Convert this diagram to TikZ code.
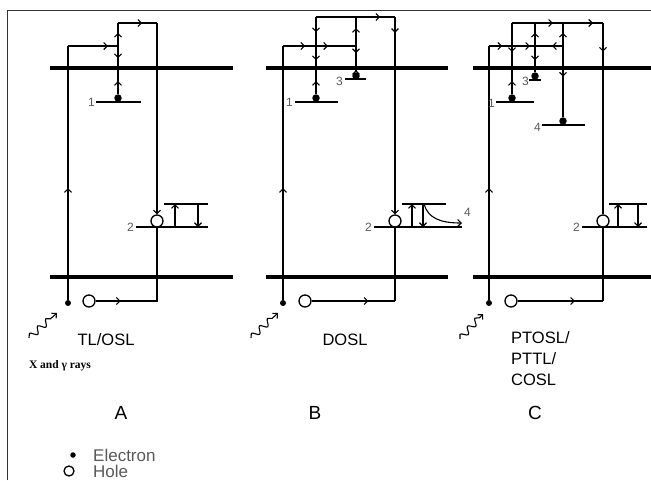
\documentclass[tikz,border=0pt]{standalone}
\usepackage{fontspec}
\setmainfont{Liberation Sans}
\newfontfamily\raysfont{Liberation Serif}
\usetikzlibrary{arrows.meta,decorations.markings,decorations.pathmorphing,backgrounds}
\definecolor{labelgray}{gray}{0.35}
\definecolor{framegray}{gray}{0.2}

\begin{document}
\begin{tikzpicture}[x=1pt,y=-1pt,
  >={Straight Barb[length=3.5pt,width=7pt]},
  band/.style={line width=4pt},
  level/.style={line width=2pt},
  wire/.style={line width=1.1pt},
  tipat/.style={postaction={decorate},
    decoration={markings,mark=at position #1 with {\arrow{>}}}},
  elec/.style={circle,fill=black,inner sep=0pt,minimum size=6pt},
  tdot/.style={circle,fill=black,inner sep=0pt,minimum size=7.5pt},
  hole/.style={circle,draw=black,line width=1.3pt,fill=white,
    inner sep=0pt,minimum size=12pt},
  num/.style={text=labelgray,font=\fontsize{12}{14}\selectfont,
    inner sep=0pt,anchor=east},
  method/.style={font=\fontsize{16.5}{21}\selectfont,inner sep=0pt},
  panel/.style={font=\fontsize{19}{20}\selectfont,inner sep=0pt},
  legend/.style={text=labelgray,font=\fontsize{17}{20}\selectfont,
    anchor=west,inner sep=0pt},
  ray/.style={wire,->,decorate,
    decoration={snake,amplitude=3.2pt,segment length=11pt,post length=4pt}}
]
\useasboundingbox (0,0) rectangle (651,480);
\draw[framegray,line width=1pt] (7,480) -- (7,10) -- (651,10);

% ---------- A: TL/OSL
\node[elec] (eA) at (68,303) {};
\node[hole] (hA) at (89,301) {};
\node[tdot] (t1A) at (118,98) {};
\node[hole] (h2A) at (157,221) {};
\node[num] at (95,102) {1};
\node[num] at (134,227) {2};
\node[method] (mA) at (106,340) {TL/OSL};
\node[font=\fontsize{11.5}{13}\selectfont\raysfont\bfseries,inner sep=0pt]
  (rays) at (60,366) {X and γ rays};
\node[panel] (pA) at (121,413) {A};

% ---------- B: DOSL
\node[elec] (eB) at (283,303) {};
\node[hole] (hB) at (305,301) {};
\node[tdot] (t1B) at (316,98) {};
\node[tdot] (t3B) at (356,76) {};
\node[hole] (h2B) at (395,221) {};
\node[num] at (293,102) {1};
\node[num] at (343,81) {3};
\node[num] at (372,227) {2};
\node[num,anchor=west] at (464,212) {4};
\node[method] (mB) at (345,340) {DOSL};
\node[panel] (pB) at (315,413) {B};

% ---------- C: PTOSL/PTTL/COSL
\node[elec] (eC) at (489,303) {};
\node[hole] (hC) at (511,301) {};
\node[tdot] (t1C) at (512,98) {};
\node[tdot] (t3C) at (535,76) {};
\node[tdot] (t4C) at (563,121) {};
\node[hole] (h2C) at (603,221) {};
\node[num] at (495,103) {1};
\node[num] at (529,81) {3};
\node[num] at (541,127) {4};
\node[num] at (580,227) {2};
\node[method,anchor=north west,align=left] (mC) at (511,331)
  {PTOSL/\\PTTL/\\COSL};
\node[panel] (pC) at (535,413) {C};

% ---------- legend
\node[elec,minimum size=5.5pt] (le) at (73,455) {};
\node[hole,minimum size=10pt] (lh) at (69,471) {};
\node[legend] at (93,455) {Electron};
\node[legend] at (93,471) {Hole};

\begin{scope}[on background layer]
  % bands
  \draw[band] (50,68) -- (233,68);
  \draw[band] (50,277) -- (233,277);
  \draw[band] (266,68) -- (448,68);
  \draw[band] (266,277) -- (448,277);
  \draw[band] (473,68) -- (651,68);
  \draw[band] (473,277) -- (651,277);

  % A
  \draw[level] (96,102) -- (141,102);
  \draw[level] (136,227) -- (208,227);
  \draw[level] (164,204) -- (208,204);
  \draw[wire,tipat=0.44] (eA) -- (68,46);
  \draw[wire,tipat=0.8] (68,46) -- (118,46);
  \draw[wire,tipat=0.5] (t1A) -- (118,68);
  \draw[wire,tipat=0.55] (118,46) -- (118,68);
  \draw[wire,tipat=0.57] (118,46) -- (118,23);
  \draw[wire,tipat=0.62] (118,23) -- (157,23);
  \draw[wire,->] (157,23) -- (h2A);
  \draw[wire,tipat=25pt] (hA) -- (157,301) -- (h2A);
  \draw[wire,->] (175,227) -- (175,204);
  \draw[wire,->] (198,204) -- (198,227);
  \draw[ray] (29,338) -- (57,313);

  % B
  \draw[level] (295,102) -- (338,102);
  \draw[level] (345,79) -- (366,79);
  \draw[level] (374,227) -- (462,227);
  \draw[level] (402,204) -- (446,204);
  \draw[wire,tipat=0.44] (eB) -- (283,46);
  \draw[wire,tipat=0.67] (283,46) -- (316,46);
  \draw[wire,tipat=0.3] (316,46) -- (356,46);
  \draw[wire,tipat=0.5] (t1B) -- (316,68);
  \draw[wire,tipat=0.64] (316,46) -- (316,68);
  \draw[wire,tipat=0.52] (316,17) -- (316,46);
  \draw[wire,tipat=0.5] (t3B) -- (356,68);
  \draw[wire,tipat=0.32] (356,46) -- (356,68);
  \draw[wire,tipat=0.62] (356,46) -- (356,17);
  \draw[wire] (356,17) -- (316,17);
  \draw[wire,tipat=0.62] (356,17) -- (395,17);
  \draw[wire,tipat=0.08,->] (395,17) -- (h2B);
  \draw[wire,tipat=0.68] (hB) -- (395,301);
  \draw[wire] (395,301) -- (h2B);
  \draw[wire,->] (412,227) -- (412,204);
  \draw[wire,->] (423,204) -- (423,227);
  \draw[wire,->] (424,204) .. controls (428,218) and (440,223) .. (462,223);
  \draw[ray] (251,338) -- (278,313);

  % C
  \draw[level] (496,102) -- (534,102);
  \draw[level] (529,80) -- (541,80);
  \draw[level] (542,125) -- (585,125);
  \draw[level] (582,227) -- (647,227);
  \draw[level] (609,204) -- (647,204);
  \draw[wire,tipat=0.44] (eC) -- (489,46);
  \draw[wire,tipat=0.57] (489,46) -- (512,46);
  \draw[wire,tipat=0.78] (512,46) -- (535,46);
  \draw[wire,tipat=0.39] (563,46) -- (535,46);
  \draw[wire] (512,23) -- (512,46);
  \draw[wire,tipat=0.27] (512,46) -- (512,68);
  \draw[wire,tipat=0.5] (t1C) -- (512,68);
  \draw[wire,tipat=0.57] (535,46) -- (535,23);
  \draw[wire,tipat=0.64] (535,46) -- (535,68);
  \draw[wire] (535,68) -- (t3C);
  \draw[wire,tipat=0.57] (563,46) -- (563,23);
  \draw[wire,tipat=0.43] (563,46) -- (t4C);
  \draw[wire] (512,23) -- (535,23);
  \draw[wire,tipat=0.64] (535,23) -- (563,23);
  \draw[wire,tipat=0.75] (563,23) -- (603,23);
  \draw[wire,tipat=0.15] (603,23) -- (h2C);
  \draw[wire,tipat=0.67] (hC) -- (603,301);
  \draw[wire] (603,301) -- (h2C);
  \draw[wire,->] (618,227) -- (618,204);
  \draw[wire,->] (638,204) -- (638,227);
  \draw[ray] (460,339) -- (483,314);
\end{scope}
\end{tikzpicture}
\end{document}
